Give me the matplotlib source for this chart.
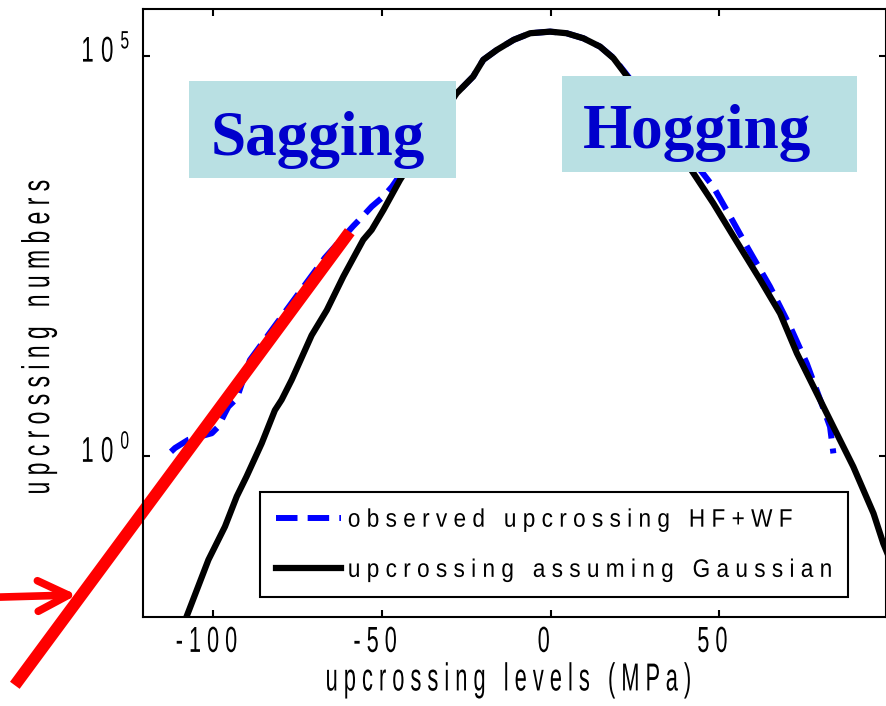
import math
import matplotlib
matplotlib.use('Agg')
import matplotlib.pyplot as plt
from matplotlib.patheffects import AbstractPathEffect
from matplotlib.transforms import Affine2D
from matplotlib.patches import Rectangle
from matplotlib.ticker import FixedLocator, FuncFormatter, NullLocator

# ---------------- data ----------------
gauss_x = [-110.0, -108.0, -101.5, -96.6, -93.1, -90.2, -85.7, -81.8, -79.8, -76.8,
           -70.9, -66.4, -61.5, -55.6, -53.1, -49.6, -44.7, -36.4, -27.9, -23.0,
           -20.0, -16.0, -11.0, -6.1, -0.2, 4.7, 9.7, 14.6, 18.6, 22.0,
           32.4, 42.3, 48.2, 54.2, 62.1, 68.0, 73.0, 77.9, 83.8, 89.7,
           95.7, 98.6, 100.6]
gauss_y = [5.9e-3, 9.7e-3, 0.050, 0.13, 0.31, 0.55, 1.43, 3.7, 5.0, 8.9,
           32, 66, 174, 500, 665, 1.18e3, 2.8e3, 1.0e4, 3.39e4, 5.5e4,
           8.9e4, 1.18e5, 1.58e5, 1.91e5, 2.0e5, 1.91e5, 1.65e5, 1.3e5, 9.3e4, 6.0e4,
           1.5e4, 3.4e3, 1.43e3, 550, 158, 60, 19, 7.3, 2.3, 0.73,
           0.19, 0.080, 0.050]

obs_x = [-112.6, -111.4, -107.5, -100.5, -98.6, -96.6, -95.6, -93.1, -89.2, -81.8,
         -74.4, -67.0, -58.6, -55.6, -53.1, -49.6, -47.1, -45.3, -36.4, -27.9,
         -23.0, -20.0, -16.0, -11.0, -6.1, -0.2, 4.7, 9.7, 14.6, 18.6,
         22.0, 32.4, 48.2, 53.2, 58.2, 65.0, 71.0, 75.9, 79.9, 82.8,
         83.8]
obs_y = [1.12, 1.25, 1.58, 1.91, 2.3, 3.4, 4.1, 5.2, 15.7, 42,
         112, 297, 740, 1.0e3, 1.3e3, 1.74e3, 2.3e3, 2.95e3, 1.17e4, 3.39e4,
         5.5e4, 8.9e4, 1.18e5, 1.58e5, 1.91e5, 2.0e5, 1.91e5, 1.65e5, 1.3e5, 9.4e4,
         6.2e4, 1.66e4, 2.3e3, 980, 410, 130, 41, 14.3, 5.0, 2.3,
         1.07]

fit_x = [-158.9, -59.6]
fit_y = [1.35e-3, 631]

arrow_tail = (-163.3, 1.71e-2)
arrow_head = (-140.5, 1.82e-2)

xticks = [-100, -50, 0, 50]
yticks = [1e0, 1e5]
legend_labels = ['observed upcrossing HF+WF', 'upcrossing assuming Gaussian']
region_labels = ['Sagging', 'Hogging']
xlabel_text = 'upcrossing levels (MPa)'
ylabel_text = 'upcrossing numbers'


# ---------------- helpers ----------------
class Stretch(AbstractPathEffect):
    """Draw text glyphs stretched vertically (tall, narrow MATLAB-like look)."""
    def __init__(self, sy=1.6, dx=0.0, dy=0.0):
        super().__init__()
        self.sy, self.dx, self.dy = sy, dx, dy

    def draw_path(self, renderer, gc, tpath, affine, rgbFace=None):
        ext = tpath.get_extents()
        cy = 0.5 * (ext.y0 + ext.y1)
        t = (Affine2D().translate(0, -cy).scale(1, self.sy).translate(0, cy)
             + affine + Affine2D().translate(self.dx, self.dy))
        renderer.draw_path(gc, tpath, t, rgbFace)


def spaced(s):
    return ' '.join(s)


plt.rcParams['font.family'] = ['Liberation Sans', 'DejaVu Sans']
plt.rcParams['mathtext.fontset'] = 'custom'
plt.rcParams['mathtext.rm'] = 'Liberation Sans'

W, H = 887, 706
fig = plt.figure(figsize=(W / 100, H / 100), dpi=100)
ax = fig.add_axes([143 / W, 1 - 617 / H, (886 - 143) / W, (617 - 9) / H])

ax.set_yscale('log')
ax.set_xlim(-120.9, 99.4)
ax.set_ylim(10 ** -2.016, 10 ** 5.584)

l_obs, = ax.plot(obs_x, obs_y, color='#0000ff', lw=4.3,
                 linestyle=(0, (3.6, 1.7)), zorder=2)
l_gauss, = ax.plot(gauss_x, gauss_y, color='black', lw=4.5, zorder=2.2,
                   solid_joinstyle='round')
ax.plot(fit_x, fit_y, color='#ff0000', lw=8.6, solid_capstyle='butt',
        clip_on=False, zorder=2.5)
ax.annotate('', xy=arrow_head, xytext=arrow_tail, annotation_clip=False,
            arrowprops=dict(arrowstyle='->, head_length=0.4, head_width=0.2',
                            color='#ff0000', lw=5.5,
                            mutation_scale=55, shrinkA=0, shrinkB=0))

# region boxes
boxes = [(189, 81, 456, 178), (562, 76, 857, 172)]
text_pos = [(317.5, 155), (697, 148)]
for (x0, y0, x1, y1), (tx, ty), lab in zip(boxes, text_pos, region_labels):
    ax.add_patch(Rectangle((x0 / W, 1 - y1 / H), (x1 - x0) / W, (y1 - y0) / H,
                           transform=fig.transFigure, facecolor='#b9e0e3',
                           edgecolor='none', zorder=3))
    ax.text(tx / W, 1 - ty / H, lab, transform=fig.transFigure,
            ha='center', va='baseline', fontsize=45.5, fontweight='bold',
            family=['Liberation Serif', 'DejaVu Serif'], color='#0000cc', zorder=4)

# axes styling
for sp in ax.spines.values():
    sp.set_linewidth(1.5)
ax.xaxis.set_major_locator(FixedLocator(xticks))
ax.yaxis.set_major_locator(FixedLocator(yticks))
ax.yaxis.set_minor_locator(NullLocator())
ax.xaxis.set_minor_locator(NullLocator())
ax.xaxis.set_major_formatter(FuncFormatter(lambda v, p: spaced(f'{v:g}')))
ax.yaxis.set_major_formatter(FuncFormatter(
    lambda v, p: r'$\mathregular{1\ 0^{\,\;%d}}$' % round(math.log10(v))))
ax.tick_params(which='both', direction='in', top=True, right=True,
               length=5, width=1.5)
ax.tick_params(axis='x', pad=10, labelsize=15.6)
ax.tick_params(axis='y', pad=9, labelsize=16.1)

for t in ax.get_xticklabels():
    t.set_path_effects([Stretch(1.67, dx=-7)])
for t in ax.get_yticklabels():
    t.set_path_effects([Stretch(1.6, dy=10)])

ax.set_xlabel(spaced(xlabel_text), fontsize=15.7)
ax.xaxis.set_label_coords((507 - 143) / 743, -(670 - 617) / 608)
ax.xaxis.label.set_path_effects([Stretch(1.79)])

ax.set_ylabel(spaced(ylabel_text), fontsize=16.5)
ax.yaxis.set_label_coords((50 - 143) / 743, (617 - 337) / 608)
ax.yaxis.label.set_path_effects([Stretch(1.69)])

leg = ax.legend(handles=[l_obs, l_gauss], labels=[spaced(s) for s in legend_labels],
                loc='lower left', bbox_to_anchor=((260 - 143) / 743, (617 - 597) / 608),
                borderaxespad=0, frameon=True, fancybox=False, edgecolor='black',
                framealpha=1, fontsize=16.3, handlelength=2.87, handletextpad=0.31,
                borderpad=0.7, labelspacing=1.2)
leg.get_frame().set_linewidth(1.5)
leg.set_zorder(6)
for t in leg.get_texts():
    t.set_path_effects([Stretch(1.12)])

fig.savefig('out.png', dpi=100)
